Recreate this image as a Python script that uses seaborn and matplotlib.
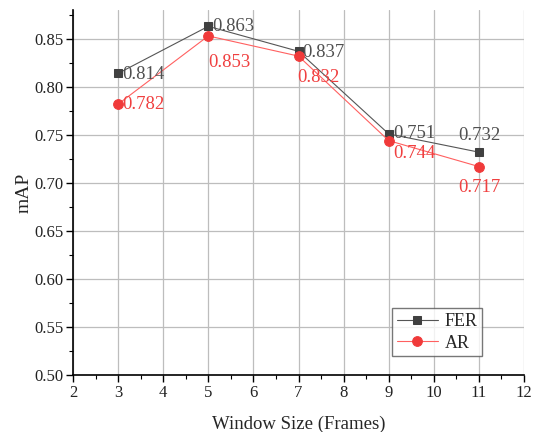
import matplotlib
matplotlib.use("Agg")
import matplotlib.pyplot as plt
import seaborn as sns
import pandas as pd
from matplotlib.ticker import MultipleLocator

window = [3, 5, 7, 9, 11]
fer = [0.814, 0.863, 0.837, 0.751, 0.732]
ar = [0.782, 0.853, 0.832, 0.744, 0.717]

sns.set_theme(style="whitegrid")
plt.rcParams['font.family'] = ['Liberation Serif', 'DejaVu Serif']

df = pd.DataFrame({"Window": window * 2, "mAP": fer + ar,
                   "Series": ["FER"] * 5 + ["AR"] * 5})

fig = plt.figure(figsize=(5.36, 4.32), dpi=100)
ax = fig.add_axes([73/536, 1 - 375/432, (524-73)/536, (375-10)/432])

fer_c, ar_c = "#404040", "#f03a3a"
sns.lineplot(data=df[df.Series == "FER"], x="Window", y="mAP", ax=ax, color="#555555",
             lw=0.8, marker="s", markersize=6, markerfacecolor=fer_c, markeredgecolor=fer_c,
             label="FER")
sns.lineplot(data=df[df.Series == "AR"], x="Window", y="mAP", ax=ax, color="#ff6060",
             lw=0.8, marker="o", markersize=7, markerfacecolor=ar_c, markeredgecolor=ar_c,
             label="AR")

ax.set_xlim(2, 12)
ax.set_ylim(0.50, 0.88)
ax.xaxis.set_major_locator(MultipleLocator(1))
ax.xaxis.set_minor_locator(MultipleLocator(0.5))
ax.yaxis.set_major_locator(MultipleLocator(0.05))
ax.yaxis.set_minor_locator(MultipleLocator(0.025))
ax.yaxis.set_major_formatter(matplotlib.ticker.FormatStrFormatter('%.2f'))

ax.grid(True, which="major", color="#bdbdbd", lw=0.9)
ax.grid(False, which="minor")
for s in ["top", "right"]:
    ax.spines[s].set_visible(False)
for s in ["left", "bottom"]:
    ax.spines[s].set_color("black")
    ax.spines[s].set_linewidth(1.2)
ax.tick_params(which="major", direction="out", length=5, width=1.0, color="black",
               labelsize=12, labelcolor="#222222", left=True, bottom=True, pad=2)
ax.tick_params(which="minor", direction="out", length=3, width=0.8, color="black",
               left=True, bottom=True)

ax.set_xlabel("Window Size (Frames)", fontsize=13.5, labelpad=11)
ax.set_ylabel("mAP", fontsize=14, labelpad=1)

# annotations (offsets in points)
fer_off = [(3, -1, "left", "center"), (3, 0, "left", "center"), (3, -1, "left", "center"),
           (3, 0, "left", "center"), (0, 6, "center", "bottom")]
ar_off = [(3, 0, "left", "center"), (0, -13, "left", "top"), (-1, -9, "left", "top"),
          (3, -9, "left", "center"), (0, -9, "center", "top")]
for x, y, (dx, dy, ha, va) in zip(window, fer, fer_off):
    ax.annotate(f"{y:.3f}", (x, y), xytext=(dx, dy), textcoords="offset points",
                ha=ha, va=va, fontsize=13.5, color="#505050")
for x, y, (dx, dy, ha, va) in zip(window, ar, ar_off):
    ax.annotate(f"{y:.3f}", (x, y), xytext=(dx, dy), textcoords="offset points",
                ha=ha, va=va, fontsize=13.5, color="#f04040")

leg = ax.legend(loc="lower right", bbox_to_anchor=(0.907, 0.052), fontsize=13,
                frameon=True, fancybox=False, borderpad=0.25, borderaxespad=0,
                handlelength=2.3, handletextpad=0.35, labelspacing=0.25)
leg.get_frame().set_edgecolor("#555555")
leg.get_frame().set_linewidth(1.0)

fig.savefig("out.png", dpi=100)
